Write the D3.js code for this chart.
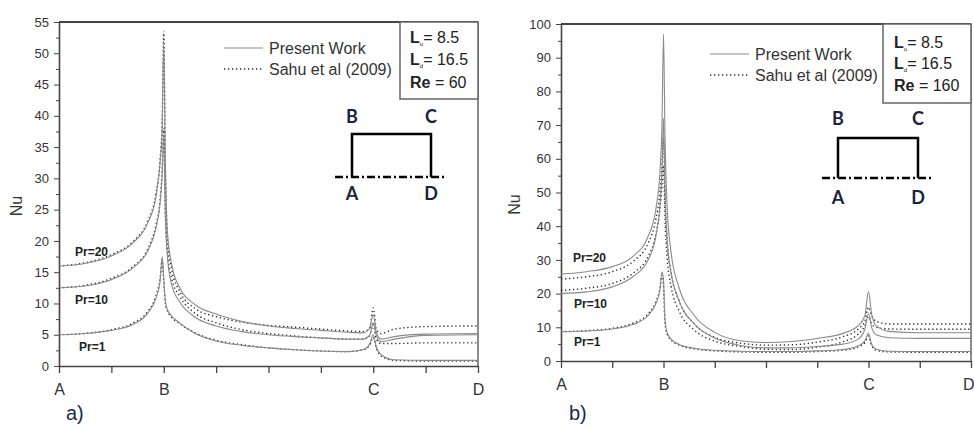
<!DOCTYPE html>
<meta charset="utf-8">
<style>
body { margin: 0; background: #fff; }
svg { display: block; font-family: "Liberation Sans", Arial, sans-serif; }
.solid { fill: none; stroke: #8a8a8a; stroke-width: 1.1px; }
.dotted { fill: none; stroke: #2b2b2b; stroke-width: 1.4px; stroke-dasharray: 1.3,2.7; }
.axis path, .axis line { stroke: #444; }
.axis text { fill: #333; }
.inset { font-family: Lato, "Open Sans", sans-serif; font-weight: 700; font-size: 18px; fill: #1c2340; }
</style>
<svg width="974" height="429"></svg>
<script src="https://d3js.org/d3.v7.min.js"></script>
<script>
// positions along the wall A-B-C-D (tick units, A=0 ... D=8)
var xPos = [0, 0.5, 1.0, 1.4, 1.7, 1.85, 1.93, 1.97, 2.0, 2.03, 2.07, 2.15, 2.3, 2.6, 3.0, 3.5, 4.0, 4.5, 5.0, 5.5, 5.8, 5.93, 6.0, 6.06, 6.15, 6.4, 7.0, 8.0];
var xTicks = [0, 1, 2, 3, 4, 5, 6, 7, 8];
var pointPos = [0, 2, 6, 8];
var pointNames = ["A", "B", "C", "D"];

// a) Re = 60
var re60Pr20Present = [16.0, 16.4, 17.6, 19.6, 23.0, 27.0, 32.5, 38.0, 52.0, 33.0, 21.5, 16.3, 12.6, 9.8, 8.3, 7.1, 6.4, 6.0, 5.7, 5.4, 5.3, 6.0, 8.2, 5.4, 4.3, 4.7, 5.1, 5.2];
var re60Pr20Sahu    = [16.0, 16.5, 17.8, 19.8, 23.3, 27.5, 33.0, 39.0, 53.5, 32.0, 20.5, 15.5, 12.0, 9.2, 7.9, 7.0, 6.5, 6.2, 5.9, 5.6, 5.5, 6.0, 9.3, 5.8, 5.2, 5.9, 6.3, 6.4];
var re60Pr10Present = [12.5, 12.8, 13.8, 15.6, 18.5, 22.0, 26.0, 30.5, 37.0, 24.0, 17.5, 13.0, 10.3, 7.8, 6.4, 5.5, 5.0, 4.7, 4.5, 4.3, 4.3, 4.9, 6.9, 4.8, 3.9, 4.3, 4.9, 5.0];
var re60Pr10Sahu    = [12.5, 12.9, 14.0, 15.8, 18.8, 22.5, 26.5, 31.5, 38.0, 25.0, 18.3, 14.0, 11.2, 8.4, 6.9, 5.8, 5.2, 4.8, 4.5, 4.3, 4.3, 4.8, 6.6, 4.3, 3.6, 3.6, 3.7, 3.7];
var re60Pr1Present  = [5.0, 5.2, 5.7, 6.6, 8.5, 10.8, 13.5, 17.5, 14.0, 10.5, 9.0, 8.0, 6.9, 5.2, 4.0, 3.3, 2.9, 2.6, 2.4, 2.3, 2.6, 3.5, 5.0, 3.0, 1.8, 1.0, 0.9, 0.9];
var re60Pr1Sahu     = [5.0, 5.2, 5.8, 6.8, 8.8, 11.2, 14.0, 17.0, 13.5, 10.0, 8.8, 7.8, 6.8, 5.3, 4.1, 3.4, 2.9, 2.6, 2.4, 2.3, 2.6, 3.3, 4.6, 2.8, 1.6, 0.9, 0.8, 0.8];

// b) Re = 160
var re160Pr20Present = [25.8, 26.5, 28.0, 31.0, 37.0, 45.0, 56.0, 70.0, 97.0, 66.0, 46.0, 32.0, 22.0, 13.5, 8.5, 6.0, 5.5, 5.8, 6.7, 8.2, 10.5, 13.5, 20.6, 14.0, 10.5, 8.8, 8.4, 8.4];
var re160Pr20Sahu    = [24.3, 25.0, 26.5, 29.5, 35.0, 42.0, 50.0, 58.0, 66.0, 48.0, 36.0, 26.0, 18.0, 11.0, 7.0, 5.3, 4.7, 4.8, 5.6, 7.2, 9.5, 12.0, 16.0, 13.5, 11.8, 11.0, 11.0, 11.0];
var re160Pr10Present = [20.0, 20.5, 22.0, 25.0, 30.0, 37.0, 46.0, 56.0, 72.0, 50.0, 36.0, 26.0, 18.0, 11.0, 6.8, 4.6, 3.9, 3.9, 4.3, 5.0, 6.5, 9.5, 14.0, 10.0, 7.8, 6.9, 6.7, 6.7];
var re160Pr10Sahu    = [21.0, 21.6, 23.0, 26.0, 31.0, 37.5, 45.0, 52.0, 58.0, 42.0, 31.0, 22.0, 15.0, 9.2, 5.9, 4.3, 3.5, 3.4, 4.1, 5.7, 8.0, 10.5, 13.2, 11.0, 10.0, 9.5, 9.4, 9.4];
var re160Pr1Present  = [8.7, 8.9, 9.5, 10.8, 13.5, 17.0, 21.0, 26.5, 24.0, 12.0, 8.5, 6.5, 5.0, 3.8, 3.2, 2.9, 2.8, 2.8, 3.0, 3.4, 4.5, 6.0, 8.2, 5.0, 3.5, 2.9, 2.8, 2.8];
var re160Pr1Sahu     = [8.7, 9.0, 9.7, 11.2, 14.0, 17.5, 21.5, 25.5, 22.0, 11.0, 8.0, 6.2, 4.8, 3.6, 3.0, 2.7, 2.6, 2.6, 2.8, 3.2, 4.2, 5.5, 7.4, 4.6, 3.2, 2.7, 2.6, 2.6];

var prNames = ["Pr=20", "Pr=10", "Pr=1"];

var svg = d3.select("svg");

var panels = [
  {
    left: 59, right: 478, top: 22, bottom: 366, yMax: 55, yMajor: 5,
    present: [re60Pr20Present, re60Pr10Present, re60Pr1Present],
    sahu: [re60Pr20Sahu, re60Pr10Sahu, re60Pr1Sahu],
    params: ["8.5", "16.5", "60"],
    tag: "a)", tagX: 66, tagY: 420, nuX: 22,
    prX: [75, 75, 79], prY: [256, 304, 351],
    legX: 224, legY: 48,
    box: [400, 99], boxTextX: 410, boxTextY: [43, 65, 88],
    rect: [352, 431, 134, 177], dash: [335, 445],
    letterY: [123, 200], lastTickEnd: false
  },
  {
    left: 561, right: 971, top: 24, bottom: 361, yMax: 100, yMajor: 10,
    present: [re160Pr20Present, re160Pr10Present, re160Pr1Present],
    sahu: [re160Pr20Sahu, re160Pr10Sahu, re160Pr1Sahu],
    params: ["8.5", "16.5", "160"],
    tag: "b)", tagX: 569, tagY: 420, nuX: 520,
    prX: [573, 574, 574], prY: [262, 308, 346],
    legX: 710, legY: 54,
    box: [883, 103], boxTextX: 894, boxTextY: [48, 69, 91],
    rect: [838, 918, 138, 178], dash: [822, 933],
    letterY: [125, 204], lastTickEnd: true
  }
];

panels.forEach(function(p) {
  var x = d3.scaleLinear().domain([0, 8]).range([p.left, p.right]),
      y = d3.scaleLinear().domain([0, p.yMax]).range([p.bottom, p.top]);

  var g = svg.append("g");

  // frame: top and right
  g.append("line").attr("x1", p.left).attr("x2", p.right).attr("y1", p.top).attr("y2", p.top)
      .attr("stroke", "#444").attr("stroke-width", 2);
  g.append("line").attr("x1", p.right).attr("x2", p.right).attr("y1", p.top).attr("y2", p.bottom)
      .attr("stroke", "#666").attr("stroke-width", 1.5);

  // y axis, minor then major
  var minors = d3.range(p.yMajor / 2, p.yMax, p.yMajor);
  var majors = d3.range(0, p.yMax + 0.1, p.yMajor);
  g.append("g")
      .attr("transform", "translate(" + p.left + ",0)")
      .attr("class", "axis")
      .call(d3.axisLeft(y).tickValues(minors).tickSize(3).tickFormat(""))
      .call(function(a) { a.select(".domain").remove(); });
  g.append("g")
      .attr("class", "axis")
      .attr("transform", "translate(" + p.left + ",0)")
      .call(d3.axisLeft(y).tickValues(majors).tickSize(5).tickSizeOuter(0).tickPadding(5))
      .call(function(a) {
        a.select(".domain").attr("stroke-width", 1.6);
        a.selectAll("text").style("font-size", "13px");
      });

  // x axis with A B C D
  g.append("g")
      .attr("class", "axis")
      .attr("transform", "translate(0," + p.bottom + ")")
      .call(d3.axisBottom(x).tickValues(xTicks).tickSize(7).tickSizeOuter(0).tickPadding(11)
        .tickFormat(function(d) { var i = pointPos.indexOf(d); return i < 0 ? "" : pointNames[i]; }))
      .call(function(a) {
        a.select(".domain").attr("stroke-width", 1.6);
        a.selectAll("line").attr("stroke-width", 1.3);
        a.selectAll("text").style("font-size", "16px");
        if (p.lastTickEnd) {
          a.selectAll("text").filter(function(d) { return d === 8; })
              .attr("text-anchor", "end").attr("dx", 3);
        }
      });

  // Nu label
  g.append("text")
      .attr("transform", "translate(" + p.nuX + "," + ((p.top + p.bottom) / 2 + 12) + ") rotate(-90)")
      .attr("text-anchor", "middle")
      .style("font-size", "16px")
      .attr("fill", "#333")
      .text("Nu");

  // curves
  var line = d3.line()
      .curve(d3.curveMonotoneX)
      .x(function(d, i) { return x(xPos[i]); })
      .y(function(d) { return y(d); });

  p.sahu.forEach(function(s) {
    g.append("path").attr("class", "dotted").attr("d", line(s));
  });
  p.present.forEach(function(s) {
    g.append("path").attr("class", "solid").attr("d", line(s));
  });

  // Pr labels
  prNames.forEach(function(name, i) {
    g.append("text")
        .attr("x", p.prX[i]).attr("y", p.prY[i])
        .style("font-size", "12px").style("font-weight", "bold")
        .attr("fill", "#222")
        .text(name);
  });

  // legend
  g.append("line").attr("class", "solid")
      .attr("x1", p.legX).attr("x2", p.legX + 39).attr("y1", p.legY).attr("y2", p.legY);
  g.append("line").attr("class", "dotted")
      .attr("x1", p.legX).attr("x2", p.legX + 39).attr("y1", p.legY + 21).attr("y2", p.legY + 21);
  g.append("text").attr("x", p.legX + 45).attr("y", p.legY + 6)
      .style("font-size", "16px").attr("fill", "#333").text("Present Work");
  g.append("text").attr("x", p.legX + 45).attr("y", p.legY + 27)
      .style("font-size", "16px").attr("fill", "#333").text("Sahu et al (2009)");

  // parameter box
  g.append("rect")
      .attr("x", p.box[0]).attr("y", p.top)
      .attr("width", p.right - p.box[0]).attr("height", p.box[1] - p.top)
      .attr("fill", "#fff").attr("stroke", "#666").attr("stroke-width", 1.5);
  var subs = ["u", "d"];
  [0, 1].forEach(function(i) {
    var t = g.append("text").attr("x", p.boxTextX).attr("y", p.boxTextY[i])
        .style("font-size", "16px").attr("fill", "#222");
    t.append("tspan").style("font-weight", "bold").text("L");
    t.append("tspan").style("font-size", "6px").attr("dy", 3).text(subs[i]);
    t.append("tspan").attr("dy", -3).text("= " + p.params[i]);
  });
  var r = g.append("text").attr("x", p.boxTextX).attr("y", p.boxTextY[2])
      .style("font-size", "16px").attr("fill", "#222");
  r.append("tspan").style("font-weight", "bold").text("Re");
  r.append("tspan").text(" = " + p.params[2]);

  // geometry sketch
  var rc = p.rect;
  g.append("path")
      .attr("d", "M" + rc[0] + "," + rc[3] + "V" + rc[2] + "H" + rc[1] + "V" + rc[3])
      .attr("fill", "none").attr("stroke", "#000").attr("stroke-width", 2.5);
  g.append("line")
      .attr("x1", p.dash[0]).attr("x2", p.dash[1]).attr("y1", rc[3]).attr("y2", rc[3])
      .attr("stroke", "#000").attr("stroke-width", 2.5).attr("stroke-dasharray", "8,3,2,3");
  [["B", rc[0], p.letterY[0]], ["C", rc[1], p.letterY[0]], ["A", rc[0], p.letterY[1]], ["D", rc[1], p.letterY[1]]]
    .forEach(function(l) {
      g.append("text").attr("class", "inset")
          .attr("x", l[1]).attr("y", l[2]).attr("text-anchor", "middle").text(l[0]);
    });

  // panel tag
  g.append("text").attr("x", p.tagX).attr("y", p.tagY)
      .style("font-size", "20px").attr("fill", "#1c2a48").text(p.tag);
});
</script>
